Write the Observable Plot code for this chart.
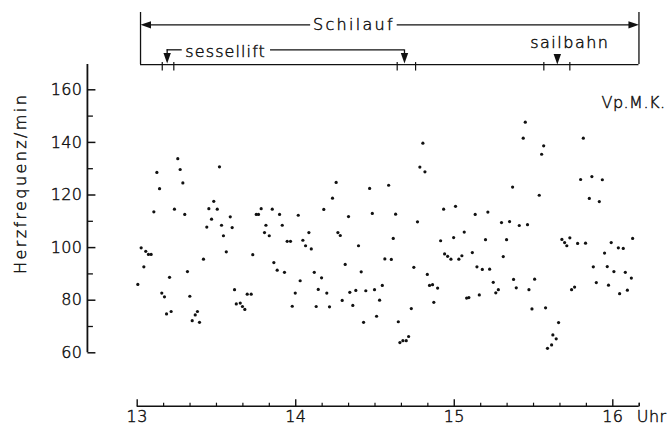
<!DOCTYPE html>
<html>
<head>
<meta charset="utf-8">
<script src="https://cdn.jsdelivr.net/npm/d3@7"></script>
<script src="https://cdn.jsdelivr.net/npm/@observablehq/plot@0.6"></script>
<style>
  html, body { margin: 0; padding: 0; background: #fff; }
  #chart { width: 667px; height: 426px; }
</style>
</head>
<body>
<div id="chart"></div>
<script>
// ---- Data ----
const times = [
  13.004, 13.025, 13.042, 13.054, 13.071, 13.088, 13.105, 13.124, 13.141, 13.155,
  13.172, 13.185, 13.204, 13.214, 13.235, 13.256, 13.271, 13.288, 13.300, 13.317,
  13.332, 13.347, 13.366, 13.380, 13.393, 13.418, 13.439, 13.452, 13.469, 13.483,
  13.505, 13.519, 13.532, 13.544, 13.562, 13.587, 13.599, 13.614, 13.625, 13.650,
  13.664, 13.679, 13.694, 13.719, 13.729, 13.751, 13.765, 13.782, 13.803, 13.812,
  13.833, 13.852, 13.862, 13.883, 13.898, 13.915, 13.929, 13.946, 13.967, 13.978,
  13.997, 14.016,
  14.028, 14.045, 14.062, 14.083, 14.098, 14.117, 14.129, 14.142, 14.163, 14.177,
  14.196, 14.213, 14.232, 14.255, 14.266, 14.281, 14.293, 14.312, 14.333, 14.341,
  14.360, 14.379, 14.396, 14.413, 14.428, 14.442, 14.466, 14.483, 14.497, 14.510,
  14.529, 14.546, 14.562, 14.586, 14.603, 14.615, 14.630, 14.647, 14.657, 14.676,
  14.697, 14.712, 14.729, 14.745, 14.768, 14.783, 14.802, 14.815, 14.830, 14.844,
  14.863, 14.871, 14.895, 14.914, 14.933, 14.939, 14.958, 14.979, 14.996, 15.008,
  15.029, 15.048, 15.063, 15.078, 15.092,
  15.114, 15.132, 15.143, 15.158, 15.177, 15.197, 15.212, 15.223, 15.246, 15.262,
  15.278, 15.298, 15.309, 15.330, 15.349, 15.368, 15.374, 15.391, 15.410, 15.435,
  15.448, 15.462, 15.471, 15.490, 15.507, 15.536, 15.551, 15.564, 15.576, 15.588,
  15.614, 15.622, 15.643, 15.658, 15.679, 15.696, 15.710, 15.729, 15.740, 15.759,
  15.778, 15.797, 15.814, 15.828, 15.852, 15.868, 15.877, 15.896, 15.915, 15.934,
  15.948, 15.965, 15.973, 15.990, 16.007, 16.035, 16.043, 16.066, 16.079, 16.092,
  16.117, 16.125
];
const rates = [
  86.0, 99.9, 92.7, 98.6, 97.4, 97.4, 113.6, 128.6, 122.4, 82.7,
  81.3, 74.8, 88.7, 75.7, 114.6, 133.8, 129.7, 124.6, 112.6, 90.9,
  81.5, 72.2, 74.4, 75.7, 71.6, 95.6, 107.8, 114.8, 110.8, 117.6,
  114.6, 130.7, 108.5, 104.5, 98.4, 111.7, 107.6, 84.0, 78.6, 78.9,
  77.6, 76.5, 82.3, 82.3, 97.3, 112.6, 112.6, 114.8, 105.7, 108.5,
  104.5, 114.6, 94.3, 91.4, 112.6, 108.5, 90.6, 102.4, 102.4, 77.7,
  82.7, 112.3,
  87.4, 102.8, 100.7, 105.7, 99.5, 90.6, 77.6, 84.1, 88.5, 114.5,
  82.7, 77.5, 118.8, 124.8, 105.7, 104.6, 79.9, 93.6, 111.8, 83.0,
  78.0, 83.7, 100.7, 90.8, 71.6, 83.6, 122.5, 113.0, 84.0, 73.9,
  80.0, 85.6, 95.7, 123.7, 95.5, 103.5, 112.7, 71.8, 63.9, 64.6,
  64.6, 66.2, 76.8, 92.5, 109.8, 130.6, 139.7, 128.8, 89.8, 85.6,
  85.9, 79.2, 84.6, 102.6, 114.6, 97.6, 96.7, 95.6, 103.8, 115.7,
  95.6, 96.9, 105.9, 80.8, 81.0,
  98.1, 112.6, 92.7, 82.0, 91.7, 103.0, 113.5, 91.8, 86.8, 82.8,
  84.0, 109.5, 96.6, 103.0, 109.9, 123.0, 87.9, 84.7, 108.4, 141.6,
  147.7, 108.7, 84.0, 76.7, 88.0, 119.9, 135.5, 138.7, 77.1, 61.7,
  63.0, 66.8, 65.3, 71.5, 103.1, 101.9, 100.7, 103.7, 84.0, 85.0,
  101.6, 125.9, 141.6, 101.7, 118.7, 127.0, 92.7, 86.7, 117.5, 125.8,
  97.9, 92.8, 85.7, 101.9, 90.9, 99.9, 82.5, 99.7, 90.6, 83.8,
  88.4, 103.5
];
const yTicks = [60, 80, 100, 120, 140, 160];
const yMinorTicks = [70, 90, 110, 130, 150];
const xTicks = [13, 14, 15, 16];
const xTickLabels = ["13", "14", "15", "16"];
const xUnit = "Uhr";
const yLabel = "Herzfrequenz/min";
const subjectLabel = "Vp.M.K.";

// Activity phases (hours)
const phaseNames = ["Schilauf", "sessellift", "sailbahn"];
const schilaufSpan = [13.021, 16.165];
const liftArrows = [13.189, 14.686];
const sailArrow = [15.650];
const phaseTicks = [13.158, 13.231, 14.640, 14.756, 15.565, 15.729];

// ---- Layout (in scale units) ----
const yAxisX = 12.686;      // position of the vertical axis
const yAxisTop = 169.6;
const xAxisY = 39.7;        // position of the detached time axis
const xAxisEnd = 16 + 1 / 6;
const bracketBottom = 169.6, bracketTop = 189.4;
const schilaufY = 184.7, liftLineY = 175.2, liftStemEnd = 173.6;

const points = times.map((t, i) => ({t, hr: rates[i]}));
const xMinor = d3.range(0, 20).map(k => 13 + k / 6).filter(v => Math.abs(v - Math.round(v)) > 1e-6 && v <= xAxisEnd + 1e-6);

// custom symbols (pixel-sized)
const tickRightMajor = {draw(c) { c.moveTo(0, 0); c.lineTo(8, 0); }};
const tickRightMinor = {draw(c) { c.moveTo(0, 0); c.lineTo(5.5, 0); }};
const tickUpMajor = {draw(c) { c.moveTo(0, 0); c.lineTo(0, -7); }};
const tickUpMinor = {draw(c) { c.moveTo(0, 0); c.lineTo(0, -3.5); }};
const tickCross = {draw(c) { c.moveTo(0, -2.5); c.lineTo(0, 6); }};
const headDown = {draw(c) { c.moveTo(0, 0); c.lineTo(-3.7, -10.5); c.lineTo(3.7, -10.5); c.closePath(); }};

const ink = "#111";
const font = 16;
const txt = {fontSize: font, fontWeight: 300, fill: ink, stroke: ink, strokeWidth: 0.45, paintOrder: "stroke"};

const chart = Plot.plot({
  width: 667,
  height: 426,
  x: {domain: [13, 16], range: [136.7, 612.3], axis: null},
  y: {domain: [60, 160], range: [352.3, 89.3], axis: null},
  style: {fontFamily: "DejaVu Sans", background: "#fff", color: ink},
  marks: [
    // y axis
    Plot.ruleX([yAxisX], {y1: 60, y2: yAxisTop, stroke: ink, strokeWidth: 1.8}),
    Plot.dot(yTicks, {x: () => yAxisX, y: d => d, symbol: tickRightMajor, stroke: ink, fill: "none", strokeWidth: 1.5}),
    Plot.dot(yMinorTicks, {x: () => yAxisX, y: d => d, symbol: tickRightMinor, stroke: ink, fill: "none", strokeWidth: 1.3}),
    Plot.text(yTicks, {x: () => yAxisX, y: d => d, text: d => String(d), textAnchor: "end", dx: -5, ...txt}),
    Plot.text([yLabel], {x: () => 12.264, y: () => 124.4, rotate: -90, ...txt}),
    // x axis
    Plot.ruleY([xAxisY], {x1: 13, x2: xAxisEnd, stroke: ink, strokeWidth: 1.6}),
    Plot.dot(xTicks, {x: d => d, y: () => xAxisY, symbol: tickUpMajor, stroke: ink, fill: "none", strokeWidth: 1.4}),
    Plot.dot(xMinor, {x: d => d, y: () => xAxisY, symbol: tickUpMinor, stroke: ink, fill: "none", strokeWidth: 1.2}),
    Plot.dot([xAxisEnd], {x: d => d, y: () => xAxisY, symbol: tickUpMinor, stroke: ink, fill: "none", strokeWidth: 1.2}),
    Plot.text(xTicks, {x: d => d, y: () => xAxisY, text: (d, i) => xTickLabels[i], dy: 11, ...txt}),
    Plot.text([xUnit], {x: () => 16, y: () => xAxisY, text: d => d, dx: 24, dy: 11, textAnchor: "start", ...txt}),
    // subject label
    Plot.text([subjectLabel], {x: () => 16.333, y: () => 155.2, text: d => d, textAnchor: "end", ...txt}),
    // phase bracket
    Plot.ruleX(schilaufSpan, {y1: bracketBottom, y2: bracketTop, stroke: ink, strokeWidth: 1.3}),
    Plot.ruleY([bracketBottom], {x1: schilaufSpan[0], x2: schilaufSpan[1], stroke: ink, strokeWidth: 1.3}),
    Plot.dot(phaseTicks, {x: d => d, y: () => bracketBottom, symbol: tickCross, stroke: ink, fill: "none", strokeWidth: 1.2}),
    // Schilauf double arrow
    Plot.ruleY([schilaufY], {x1: schilaufSpan[0] + 0.03, x2: 14.094, stroke: ink, strokeWidth: 1.3}),
    Plot.ruleY([schilaufY], {x1: 14.640, x2: schilaufSpan[1] - 0.03, stroke: ink, strokeWidth: 1.3}),
    Plot.dot([schilaufSpan[0]], {x: d => d, y: () => schilaufY, symbol: headDown, rotate: 90, fill: ink, stroke: "none"}),
    Plot.dot([schilaufSpan[1]], {x: d => d, y: () => schilaufY, symbol: headDown, rotate: -90, fill: ink, stroke: "none"}),
    Plot.text([phaseNames[0]], {x: () => 14.367, y: () => schilaufY, text: d => d, ...txt}),
    // sessellift
    Plot.ruleY([liftLineY], {x1: liftArrows[0], x2: 13.284, stroke: ink, strokeWidth: 1.3}),
    Plot.ruleY([liftLineY], {x1: 13.841, x2: liftArrows[1], stroke: ink, strokeWidth: 1.3}),
    Plot.ruleX(liftArrows, {y1: liftLineY, y2: liftStemEnd, stroke: ink, strokeWidth: 1.3}),
    Plot.dot(liftArrows, {x: d => d, y: () => 170.0, symbol: headDown, fill: ink, stroke: "none"}),
    Plot.text([phaseNames[1]], {x: () => 13.558, y: () => 174.6, text: d => d, ...txt}),
    // sailbahn
    Plot.dot(sailArrow, {x: d => d, y: () => bracketBottom, symbol: headDown, fill: ink, stroke: "none"}),
    Plot.text([phaseNames[2]], {x: () => 15.729, y: () => 177.8, text: d => d, ...txt}),
    // heart-rate points
    Plot.dot(points, {x: "t", y: "hr", r: 1.6, fill: ink, stroke: "none"})
  ]
});

const spacing = {
  "Schilauf": 2.3, "sessellift": 1.1, "sailbahn": 1.5, "Herzfrequenz/min": 2.4,
  "Vp.M.K.": 0.5, "Uhr": 0.4
};
d3.select(chart).selectAll("text").each(function () {
  const s = this.textContent;
  const ls = spacing[s] != null ? spacing[s] : 0.4;
  this.setAttribute("letter-spacing", ls + "px");
});
document.getElementById("chart").appendChild(chart);
</script>
</body>
</html>
